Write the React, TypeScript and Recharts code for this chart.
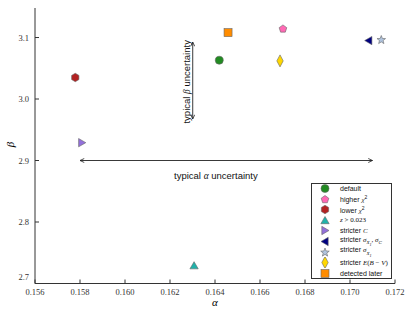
import React from 'react'
import { ScatterChart, Scatter, XAxis, YAxis, ReferenceLine, ReferenceDot } from 'recharts'

// one point per variant
const names = ['default', 'higher', 'lower', 'z', 'strictC', 'strictSxSc', 'strictSx', 'strictEbv', 'later']
const alphaVals = [0.16419, 0.16702, 0.15779, 0.16307, 0.15808, 0.17083, 0.17139, 0.16689, 0.16458]
const betaVals = [3.063, 3.114, 3.035, 2.729, 2.929, 3.095, 3.096, 3.062, 3.108]
const colors = ['#228b22', '#ff69b4', '#b22222', '#20b2aa', '#9370db', '#000080', '#b0c4de', '#ffd700', '#ff8c00']
const kinds = ['circle', 'pentagon', 'hexagon', 'triUp', 'triRight', 'triLeft', 'star', 'diamond', 'square']

const xTicks = [0.156, 0.158, 0.16, 0.162, 0.164, 0.166, 0.168, 0.17, 0.172]
const yTicks = [2.7, 2.8, 2.9, 3.0, 3.1]

const FRAME = '#333'
const serif = '"Liberation Serif", "DejaVu Serif", serif'
const sans = '"Liberation Sans", Arial, sans-serif'

function poly(cx: number, cy: number, n: number, r: number, rot: number) {
  const pts: string[] = []
  for (let i = 0; i < n; i++) {
    const a = rot + (i * 2 * Math.PI) / n
    pts.push(`${cx + r * Math.cos(a)},${cy + r * Math.sin(a)}`)
  }
  return pts.join(' ')
}

function starPts(cx: number, cy: number, R: number, r: number) {
  const pts: string[] = []
  for (let i = 0; i < 10; i++) {
    const a = -Math.PI / 2 + (i * Math.PI) / 5
    const rr = i % 2 === 0 ? R : r
    pts.push(`${cx + rr * Math.cos(a)},${cy + rr * Math.sin(a)}`)
  }
  return pts.join(' ')
}

function Marker({ kind, cx, cy, fill }: { kind: string; cx: number; cy: number; fill: string }) {
  const common = { fill, stroke: '#666', strokeWidth: 0.6 }
  switch (kind) {
    case 'circle':
      return <circle cx={cx} cy={cy} r={4} {...common} />
    case 'pentagon':
      return <polygon points={poly(cx, cy, 5, 4, -Math.PI / 2)} {...common} />
    case 'hexagon':
      return <polygon points={poly(cx, cy, 6, 4.2, -Math.PI / 2)} {...common} />
    case 'triUp':
      return <polygon points={poly(cx, cy + 0.8, 3, 4.8, -Math.PI / 2)} {...common} />
    case 'triRight':
      return <polygon points={poly(cx - 0.8, cy, 3, 4.8, 0)} {...common} />
    case 'triLeft':
      return <polygon points={poly(cx + 0.8, cy, 3, 4.8, Math.PI)} {...common} />
    case 'star':
      return <polygon points={starPts(cx, cy, 4.5, 1.9)} {...common} />
    case 'diamond':
      return <polygon points={`${cx},${cy - 6} ${cx + 3.2},${cy} ${cx},${cy + 6} ${cx - 3.2},${cy}`} {...common} />
    default:
      return <rect x={cx - 4} y={cy - 4} width={8} height={8} {...common} />
  }
}

const legendLabels: React.ReactNode[] = [
  'default',
  <>higher <i style={{ fontFamily: serif }}>χ</i><sup style={{ fontSize: 5 }}>2</sup></>,
  <>lower <i style={{ fontFamily: serif }}>χ</i><sup style={{ fontSize: 5 }}>2</sup></>,
  <span style={{ fontFamily: serif }}><i>z</i> &gt; 0.023</span>,
  <>stricter <i style={{ fontFamily: serif }}>C</i></>,
  <>stricter <i style={{ fontFamily: serif }}>σ<sub style={{ fontSize: 5 }}>X<sub>1</sub></sub>, σ<sub style={{ fontSize: 5 }}>C</sub></i></>,
  <>stricter <i style={{ fontFamily: serif }}>σ<sub style={{ fontSize: 5 }}>X<sub>1</sub></sub></i></>,
  <>stricter <i style={{ fontFamily: serif }}>E</i><span style={{ fontFamily: serif }}>(<i>B</i> − <i>V</i>)</span></>,
  'detected later',
]

function XTick(p: any) {
  return (
    <text x={p.x} y={p.y + 7} textAnchor="middle" fontFamily={serif} fontSize={8.5} fill="#333">
      {Number(p.payload.value).toFixed(3)}
    </text>
  )
}

function YTick(p: any) {
  const v = Number(p.payload.value)
  const dy = v === 2.7 ? -4 : 3
  return (
    <text x={p.x} y={p.y + dy} textAnchor="end" fontFamily={serif} fontSize={8.5} fill="#333">
      {v.toFixed(1)}
    </text>
  )
}

export default function App() {
  const data = names.map((n, i) => ({ name: n, a: alphaVals[i], b: betaVals[i] }))
  return (
    <div style={{ position: 'absolute', left: 0, top: 0, width: 415, height: 312, background: '#fff' }}>
      <svg width={0} height={0} style={{ position: 'absolute' }}>
        <defs>
          <marker id="ah" viewBox="0 0 10 10" refX={9.5} refY={5} markerWidth={5} markerHeight={5}
            markerUnits="userSpaceOnUse" orient="auto-start-reverse">
            <path d="M1,1 L9.5,5 L1,9" fill="none" stroke="#222" strokeWidth={1.6} />
          </marker>
        </defs>
      </svg>
      <ScatterChart width={415} height={312} margin={{ top: 8, right: 20, bottom: 8, left: 5 }}>
        <XAxis xAxisId="b" type="number" dataKey="a" domain={[0.156, 0.172]} ticks={xTicks}
          allowDataOverflow height={20.5} tickSize={-4} tickMargin={8}
          stroke={FRAME} tick={<XTick />} />
        <XAxis xAxisId="t" orientation="top" type="number" dataKey="a" domain={[0.156, 0.172]} ticks={xTicks}
          allowDataOverflow height={0} tickSize={-4} tickFormatter={() => ''} stroke={FRAME} />
        <YAxis yAxisId="l" type="number" dataKey="b" domain={[2.7, 3.148]} ticks={yTicks}
          allowDataOverflow width={30} tickSize={-4} tickMargin={10}
          stroke={FRAME} tick={<YTick />} />
        <YAxis yAxisId="r" orientation="right" type="number" dataKey="b" domain={[2.7, 3.148]} ticks={yTicks}
          allowDataOverflow width={0} tickSize={-4} tickFormatter={() => ''} stroke={FRAME} />
        {data.map((d, i) => (
          <Scatter key={d.name} xAxisId="b" yAxisId="l" data={[d]} fill={colors[i]} isAnimationActive={false}
            shape={(p: any) => <Marker kind={kinds[i]} cx={p.cx} cy={p.cy} fill={colors[i]} />} />
        ))}
        <ReferenceLine xAxisId="b" yAxisId="l" segment={[{ x: 0.158, y: 2.9 }, { x: 0.171, y: 2.9 }]}
          shape={(p: any) => <line x1={p.x1} y1={p.y1} x2={p.x2} y2={p.y2} stroke="#222" strokeWidth={0.9}
            markerStart="url(#ah)" markerEnd="url(#ah)" />} />
        <ReferenceLine xAxisId="b" yAxisId="l" segment={[{ x: 0.16301, y: 2.9675 }, { x: 0.16301, y: 3.0926 }]}
          shape={(p: any) => <line x1={p.x1} y1={p.y1} x2={p.x2} y2={p.y2} stroke="#222" strokeWidth={0.9}
            markerStart="url(#ah)" markerEnd="url(#ah)" />} />
        <ReferenceDot xAxisId="b" yAxisId="l" x={0.16404} y={2.875} r={0} stroke="none"
          label={(p: any) => (
            <text x={p.viewBox.x} y={p.viewBox.y + 3.5} textAnchor="middle" fontFamily={sans} fontSize={9.5} fill="#111">
              typical <tspan fontFamily={serif} fontStyle="italic">α</tspan> uncertainty
            </text>
          )} />
        <ReferenceDot xAxisId="b" yAxisId="l" x={0.16274} y={3.028} r={0} stroke="none"
          label={(p: any) => (
            <text x={p.viewBox.x} y={p.viewBox.y} textAnchor="middle" dominantBaseline="central" fontFamily={sans} fontSize={9.5} fill="#111"
              transform={`rotate(-90 ${p.viewBox.x} ${p.viewBox.y})`}>
              typical <tspan fontFamily={serif} fontStyle="italic">β</tspan> uncertainty
            </text>
          )} />
      </ScatterChart>
      <div style={{ position: 'absolute', left: 215, top: 297, lineHeight: '11px', fontFamily: serif, fontStyle: 'italic', fontSize: 11, transform: 'translateX(-50%)' }}>α</div>
      <div style={{ position: 'absolute', left: 8, top: 139, lineHeight: '11px', fontFamily: serif, fontStyle: 'italic', fontSize: 11, transform: 'rotate(-90deg)' }}>β</div>
      <div style={{ position: 'absolute', left: 311, top: 183, width: 79, height: 94, border: `1px solid ${FRAME}`, background: '#fff',
        fontFamily: sans, fontSize: 7, color: '#111', boxSizing: 'content-box' }}>
        {names.map((n, i) => (
          <div key={n} style={{ position: 'absolute', left: 0, top: -0.5 + i * 10.55, height: 10.5, display: 'flex', alignItems: 'center', whiteSpace: 'nowrap' }}>
            <svg width={20} height={11} style={{ marginLeft: 3 }}>
              <Marker kind={kinds[i]} cx={10} cy={5.5} fill={colors[i]} />
            </svg>
            <span style={{ marginLeft: 5 }}>{legendLabels[i]}</span>
          </div>
        ))}
      </div>
    </div>
  )
}
